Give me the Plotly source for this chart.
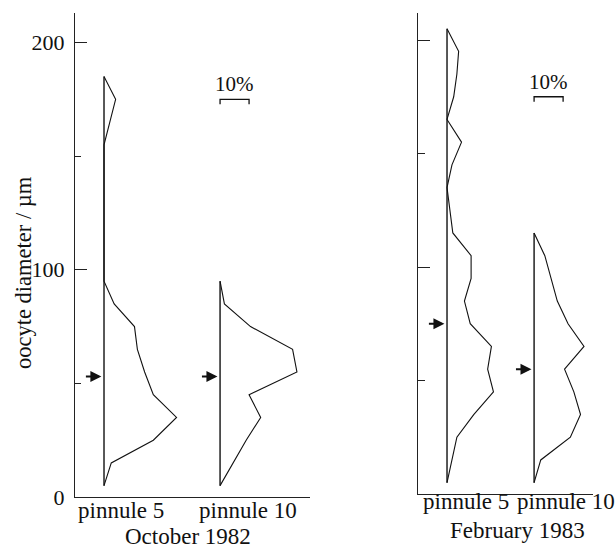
import plotly.graph_objects as go

# Oocyte diameter classes (µm, class midpoints) and percentage frequencies
oct_p5_bins = [5, 15, 25, 35, 45, 55, 65, 75, 85, 95, 105, 115, 125, 135, 145, 155, 165, 175, 185]
oct_p5_pct = [0, 2.5, 17, 25, 17, 14, 11.5, 10.5, 3.5, 0, 0, 0, 0, 0, 0, 0, 2, 4, 0]

oct_p10_bins = [5, 15, 25, 35, 45, 55, 65, 75, 85, 95]
oct_p10_pct = [0, 4.5, 9, 14, 10, 26.5, 25, 10.5, 1.5, 0]

feb_p5_bins = [5, 15, 25, 35, 45, 55, 65, 75, 85, 95, 105, 115, 125, 135, 145, 155, 165, 175, 185, 195, 205]
feb_p5_pct = [0, 1.7, 3.4, 9.2, 16, 14, 15.3, 8, 6, 8.3, 8.3, 2, 1, 0, 1.7, 5, 0, 2.3, 3.4, 4, 0]

feb_p10_bins = [5, 15, 25, 35, 45, 55, 65, 75, 85, 95, 105, 115]
feb_p10_pct = [0, 2.3, 12.5, 16, 13.7, 10.5, 17.2, 11.7, 8, 5.8, 3.7, 0]

# Mean oocyte diameter (arrows), µm
oct_means = [53, 53]
feb_means = [75, 55]

panel_titles = ["October 1982", "February 1983"]
profile_labels = ["pinnule 5", "pinnule 10"]
y_tick_vals = [0, 100, 200]
scale_pct = 10
scale_level = 175

W, H = 616, 550
FONT = "Liberation Serif"
INK = "#111111"

# Baseline position of each profile on its panel's percentage axis
left_bases = [10, 50]
right_bases = [10, 40]

fig = go.Figure()


def add_profile(base, bins, pct, xa, ya):
    fig.add_trace(go.Scatter(
        x=[base + v for v in pct], y=bins, mode="lines",
        line=dict(color=INK, width=1.1), xaxis=xa, yaxis=ya,
        hoverinfo="skip", showlegend=False))
    fig.add_trace(go.Scatter(
        x=[base, base], y=[bins[0], bins[-1]], mode="lines",
        line=dict(color=INK, width=1.4), xaxis=xa, yaxis=ya,
        hoverinfo="skip", showlegend=False))


add_profile(left_bases[0], oct_p5_bins, oct_p5_pct, "x", "y")
add_profile(left_bases[1], oct_p10_bins, oct_p10_pct, "x", "y")
add_profile(right_bases[0], feb_p5_bins, feb_p5_pct, "x2", "y2")
add_profile(right_bases[1], feb_p10_bins, feb_p10_pct, "x2", "y2")

# 10% scale bars
for base, xa, ya in [(left_bases[1], "x", "y"), (right_bases[1], "x2", "y2")]:
    fig.add_trace(go.Scatter(
        x=[base, base, base + scale_pct, base + scale_pct],
        y=[scale_level - 2.2, scale_level, scale_level, scale_level - 2.2],
        mode="lines", line=dict(color=INK, width=1.3),
        xaxis=xa, yaxis=ya, hoverinfo="skip", showlegend=False))
    fig.add_annotation(x=base + scale_pct / 2, y=scale_level, xref=xa, yref=ya,
                       text=f"{scale_pct}%", showarrow=False, yanchor="bottom",
                       xanchor="center", yshift=1,
                       font=dict(family=FONT, size=21, color=INK))

# Mean-size arrows
for base, m, xa, ya in [(left_bases[0], oct_means[0], "x", "y"),
                        (left_bases[1], oct_means[1], "x", "y"),
                        (right_bases[0], feb_means[0], "x2", "y2"),
                        (right_bases[1], feb_means[1], "x2", "y2")]:
    fig.add_annotation(x=base - 0.9, y=m, xref=xa, yref=ya, ax=-17, ay=0,
                       showarrow=True, arrowhead=2, arrowsize=1.1,
                       arrowwidth=2, arrowcolor=INK, text="")

axis_common = dict(showgrid=False, zeroline=False, showline=True,
                   linecolor="#222222", linewidth=1.4)

fig.update_layout(
    width=W, height=H, margin=dict(l=0, r=0, t=0, b=0, autoexpand=False),
    paper_bgcolor="white", plot_bgcolor="white",
    font=dict(family=FONT, size=22, color=INK),
    xaxis=dict(domain=[75 / W, 310 / W], range=[0, 81], showticklabels=False,
               ticks="", anchor="y", **axis_common),
    yaxis=dict(domain=[1 - 497 / H, 1 - 13 / H], range=[0, 213], anchor="x",
               tickvals=y_tick_vals, ticks="inside", ticklen=12, tickwidth=1.3,
               tickcolor="#222222", ticklabelstandoff=5,
               tickfont=dict(family=FONT, size=22, color=INK),
               minor=dict(tickvals=[50, 150], ticks="inside", ticklen=6,
                          tickwidth=1.1, tickcolor="#222222"),
               **axis_common),
    xaxis2=dict(domain=[418 / W, 593 / W], range=[0, 60.3], showticklabels=False,
                ticks="", anchor="y2", **axis_common),
    yaxis2=dict(domain=[1 - 494 / H, 1 - 13 / H], range=[0, 211.9], anchor="x2",
                tickvals=y_tick_vals[1:], ticks="inside", ticklen=12, tickwidth=1.3,
                tickcolor="#222222", showticklabels=False,
                minor=dict(tickvals=[50, 150], ticks="inside", ticklen=7,
                           tickwidth=1.1, tickcolor="#222222"),
                **axis_common),
)

# Axis title
fig.add_annotation(x=23 / W, y=1 - 273 / H, xref="paper", yref="paper",
                   text="oocyte diameter / µm", textangle=-90, showarrow=False,
                   xanchor="center", yanchor="middle",
                   font=dict(family=FONT, size=22.5, color=INK))

# Profile labels and panel titles
label_specs = [
    (profile_labels[0], 121, 510), (profile_labels[1], 248, 510),
    (panel_titles[0], 188, 536),
    (profile_labels[0], 466, 501), (profile_labels[1], 566, 501),
    (panel_titles[1], 517, 530),
]
for txt, px, py in label_specs:
    fig.add_annotation(x=px / W, y=1 - py / H, xref="paper", yref="paper",
                       text=txt, showarrow=False, xanchor="center",
                       yanchor="middle", borderpad=0,
                       font=dict(family=FONT, size=23, color=INK))

fig.write_html("out.html")
